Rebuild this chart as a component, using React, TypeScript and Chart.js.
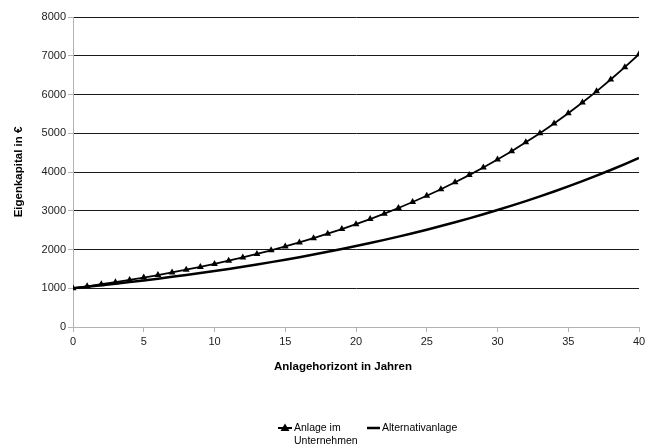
import React, { useEffect, useRef } from 'react';
import { Chart, registerables } from 'chart.js';

Chart.register(...registerables);

const years = [0, 1, 2, 3, 4, 5, 6, 7, 8, 9, 10, 11, 12, 13, 14, 15, 16, 17, 18, 19, 20,
  21, 22, 23, 24, 25, 26, 27, 28, 29, 30, 31, 32, 33, 34, 35, 36, 37, 38, 39, 40];

const anlageImUnternehmen = [1000, 1050, 1103, 1158, 1216, 1276, 1340, 1407, 1478, 1551, 1629,
  1710, 1796, 1886, 1980, 2079, 2183, 2292, 2407, 2527, 2653,
  2786, 2925, 3072, 3225, 3386, 3556, 3734, 3920, 4116, 4322,
  4538, 4765, 5003, 5253, 5516, 5792, 6081, 6386, 6705, 7040];

const alternativanlage = [1000, 1038, 1076, 1117, 1159, 1202, 1247, 1294, 1343, 1393, 1445,
  1499, 1556, 1614, 1674, 1737, 1802, 1870, 1940, 2013, 2088,
  2167, 2248, 2332, 2420, 2510, 2605, 2702, 2804, 2909, 3018,
  3131, 3248, 3370, 3497, 3628, 3764, 3905, 4051, 4203, 4361];

const seriesLabels = ['Anlage im Unternehmen', 'Alternativanlage'];
const legendLines1 = ['Anlage im', 'Unternehmen'];
const xTitle = 'Anlagehorizont in Jahren';
const yTitle = 'Eigenkapital in €';

const FONT = '"Liberation Sans", Arial, sans-serif';

const overlayPlugin = {
  id: 'overlay',
  afterDraw(chart: any) {
    const ctx = chart.ctx as CanvasRenderingContext2D;
    const area = chart.chartArea;
    ctx.save();
    // x-axis title
    ctx.font = `bold 11.5px ${FONT}`;
    ctx.fillStyle = '#000';
    ctx.textAlign = 'center';
    ctx.textBaseline = 'middle';
    ctx.fillText(xTitle, (area.left + area.right) / 2 - 13, area.bottom + 40);

    // legend
    const ly = area.bottom + 101;
    ctx.font = `10.5px ${FONT}`;
    ctx.textAlign = 'left';
    ctx.strokeStyle = '#000';
    ctx.lineWidth = 2;
    // item 1
    const x1 = 278;
    ctx.beginPath();
    ctx.moveTo(x1, ly);
    ctx.lineTo(x1 + 14, ly);
    ctx.stroke();
    ctx.beginPath();
    ctx.moveTo(x1 + 7, ly - 4.5);
    ctx.lineTo(x1 + 11.5, ly + 3);
    ctx.lineTo(x1 + 2.5, ly + 3);
    ctx.closePath();
    ctx.fill();
    ctx.fillText(legendLines1[0], x1 + 16, ly);
    ctx.fillText(legendLines1[1], x1 + 16, ly + 13);
    // item 2
    const x2 = 367;
    ctx.beginPath();
    ctx.moveTo(x2, ly);
    ctx.lineTo(x2 + 13, ly);
    ctx.lineWidth = 2.5;
    ctx.stroke();
    ctx.fillText(seriesLabels[1], x2 + 15, ly);
    ctx.restore();
  },
};

export default function App() {
  const canvasRef = useRef<HTMLCanvasElement | null>(null);

  useEffect(() => {
    document.body.style.margin = '0';
    const canvas = canvasRef.current;
    if (!canvas) return;
    const chart = new Chart(canvas, {
      type: 'line',
      data: {
        datasets: [
          {
            label: seriesLabels[0],
            data: years.map((x, i) => ({ x, y: anlageImUnternehmen[i] })),
            borderColor: '#000',
            backgroundColor: '#000',
            borderWidth: 1.8,
            pointStyle: 'triangle',
            pointRadius: 4,
            pointBorderWidth: 0,
            pointBackgroundColor: '#000',
            tension: 0,
          },
          {
            label: seriesLabels[1],
            data: years.map((x, i) => ({ x, y: alternativanlage[i] })),
            borderColor: '#000',
            backgroundColor: '#000',
            borderWidth: 2.5,
            pointRadius: 0,
            tension: 0,
          },
        ],
      },
      options: {
        animation: false,
        responsive: false,
        maintainAspectRatio: false,
        layout: { padding: { top: 17, right: 0, bottom: 0, left: 0 } },
        plugins: {
          legend: { display: false },
          tooltip: { enabled: false },
        },
        scales: {
          x: {
            type: 'linear',
            min: 0,
            max: 40,
            ticks: {
              stepSize: 5,
              color: '#222',
              font: { family: FONT, size: 11 },
              padding: 3,
              callback: (v: any) => String(v),
            },
            grid: {
              display: true,
              drawOnChartArea: false,
              tickLength: 5,
              tickColor: '#b3b3b3',
            },
            border: { color: '#b3b3b3', width: 1 },
            afterFit: (scale: any) => {
              scale.height = 120;
              scale.paddingRight = 7;
            },
          },
          y: {
            min: 0,
            max: 8000,
            ticks: {
              stepSize: 1000,
              color: '#222',
              font: { family: FONT, size: 11 },
              padding: 2,
              callback: (v: any) => String(v),
            },
            grid: {
              color: '#1a1a1a',
              lineWidth: 1,
              tickLength: 5,
              tickColor: '#b3b3b3',
            },
            border: { color: '#b3b3b3', width: 1 },
            title: {
              display: true,
              text: yTitle,
              color: '#000',
              font: { family: FONT, size: 11.5, weight: 'bold' },
              padding: { top: 12, bottom: 0 },
            },
            afterFit: (scale: any) => {
              scale.width = 73;
            },
          },
        },
      },
      plugins: [overlayPlugin],
    });
    return () => chart.destroy();
  }, []);

  return (
    <div style={{ position: 'fixed', left: 0, top: 0, width: 646, height: 447, background: '#fff' }}>
      <canvas ref={canvasRef} width={646} height={447} style={{ width: 646, height: 447 }} />
    </div>
  );
}
